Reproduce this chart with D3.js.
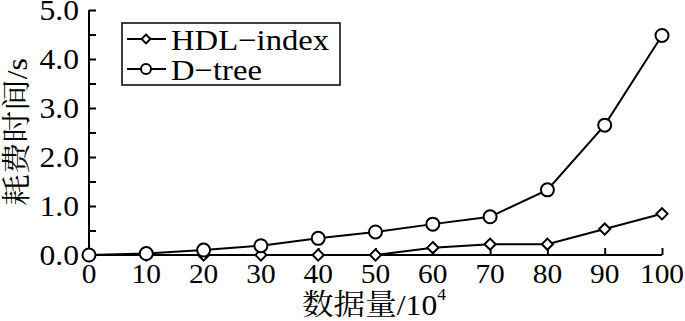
<!DOCTYPE html>
<html>
<head>
<meta charset="utf-8">
<script src="https://cdn.jsdelivr.net/npm/d3@7"></script>
<style>
  body { margin: 0; background: #fff; }
  svg text { font-family: "Liberation Serif", "Times New Roman", serif; fill: #000; }
  .cjk { font-family: "Noto Serif CJK SC", "Noto Sans CJK SC", serif; }
</style>
</head>
<body>
<svg id="chart" width="685" height="321"></svg>
<script>
// *************** DATA ***************
const sizes = [0, 10, 20, 30, 40, 50, 60, 70, 80, 90, 100];
const hdlIndex = [0, 0, 0, 0, 0, 0, 0.15, 0.22, 0.22, 0.53, 0.84];
const dTree = [0, 0.03, 0.10, 0.19, 0.34, 0.47, 0.63, 0.78, 1.33, 2.65, 4.48];
const yTicks = [0, 1, 2, 3, 4, 5];
const seriesNames = ["HDL\u2212index", "D\u2212tree"];

// *************** LAYOUT ***************
const svg = d3.select("#chart");
const x = d3.scaleLinear().domain([0, 100]).range([89, 662]);
const y = d3.scaleLinear().domain([0, 5]).range([255, 10]);
const stretch = 1.09; // the original face is a bit wider than Times

// axes: ticks point inward
const yAxis = svg.append("g")
  .attr("transform", `translate(${x(0)},0)`)
  .call(d3.axisLeft(y).tickValues(d3.range(0, 5.01, 0.5)).tickSize(-7).tickFormat(""));
yAxis.select(".domain").attr("d", `M0,${y(5)}V${y(0)}`);

const xAxis = svg.append("g")
  .attr("transform", `translate(0,${y(0)})`)
  .call(d3.axisBottom(x).tickValues(sizes).tickSize(-7).tickFormat(""));
xAxis.select(".domain").attr("d", `M${x(0)},0H${x(100)}`);

svg.selectAll(".domain, .tick line").attr("stroke", "#000").attr("stroke-width", 2);

// tick labels
svg.append("g").selectAll("text")
  .data(yTicks)
  .join("text")
  .attr("transform", d => `translate(79,${y(d) + 10}) scale(${stretch},1)`)
  .attr("text-anchor", "end")
  .attr("font-size", 29)
  .text(d => d.toFixed(1));

svg.append("g").selectAll("text")
  .data(sizes)
  .join("text")
  .attr("transform", d => `translate(${x(d)},283) scale(${stretch},1)`)
  .attr("text-anchor", "middle")
  .attr("font-size", 27)
  .text(d => d);

// axis titles
svg.append("text")
  .attr("transform", `translate(302,315) scale(${stretch},1)`)
  .attr("font-size", 29)
  .html('<tspan class="cjk">数据量</tspan>/10<tspan font-size="16" dy="-15">4</tspan>');

svg.append("text")
  .attr("transform", `translate(27,132) rotate(-90) scale(${stretch},1)`)
  .attr("text-anchor", "middle")
  .attr("font-size", 29)
  .html('<tspan class="cjk">耗费时间</tspan>/s');

// *************** SERIES ***************
const line = d3.line().x(d => x(d[0])).y(d => y(d[1]));
const diamond = d3.symbol().type(d3.symbolDiamond2).size(80);

const hdlPts = sizes.map((s, i) => [s, hdlIndex[i]]);
const dPts = sizes.map((s, i) => [s, dTree[i]]);

svg.append("path").datum(hdlPts)
  .attr("d", line).attr("fill", "none").attr("stroke", "#000").attr("stroke-width", 2);
svg.append("path").datum(dPts)
  .attr("d", line).attr("fill", "none").attr("stroke", "#000").attr("stroke-width", 2);

svg.append("g").selectAll("path")
  .data(hdlPts)
  .join("path")
  .attr("transform", d => `translate(${x(d[0])},${y(d[1])})`)
  .attr("d", diamond)
  .attr("fill", "#fff").attr("stroke", "#000").attr("stroke-width", 2);

svg.append("g").selectAll("circle")
  .data(dPts)
  .join("circle")
  .attr("cx", d => x(d[0]))
  .attr("cy", d => y(d[1]))
  .attr("r", 6.5)
  .attr("fill", "#fff").attr("stroke", "#000").attr("stroke-width", 2);

// *************** LEGEND ***************
const legend = svg.append("g");
legend.append("rect")
  .attr("x", 122).attr("y", 23).attr("width", 218).attr("height", 62)
  .attr("fill", "#fff").attr("stroke", "#000").attr("stroke-width", 1.5);

seriesNames.forEach((name, i) => {
  const ly = 39 + i * 30;
  legend.append("line")
    .attr("x1", 127).attr("x2", 166).attr("y1", ly).attr("y2", ly)
    .attr("stroke", "#000").attr("stroke-width", 2);
  if (i === 0) {
    legend.append("path")
      .attr("transform", `translate(146,${ly})`)
      .attr("d", d3.symbol().type(d3.symbolDiamond2).size(50))
      .attr("fill", "#fff").attr("stroke", "#000").attr("stroke-width", 2);
  } else {
    legend.append("circle")
      .attr("cx", 146).attr("cy", ly).attr("r", 5)
      .attr("fill", "#fff").attr("stroke", "#000").attr("stroke-width", 2);
  }
  legend.append("text")
    .attr("transform", `translate(171,${ly + 11}) scale(${stretch},1)`)
    .attr("font-size", 30)
    .text(name);
});
</script>
</body>
</html>
